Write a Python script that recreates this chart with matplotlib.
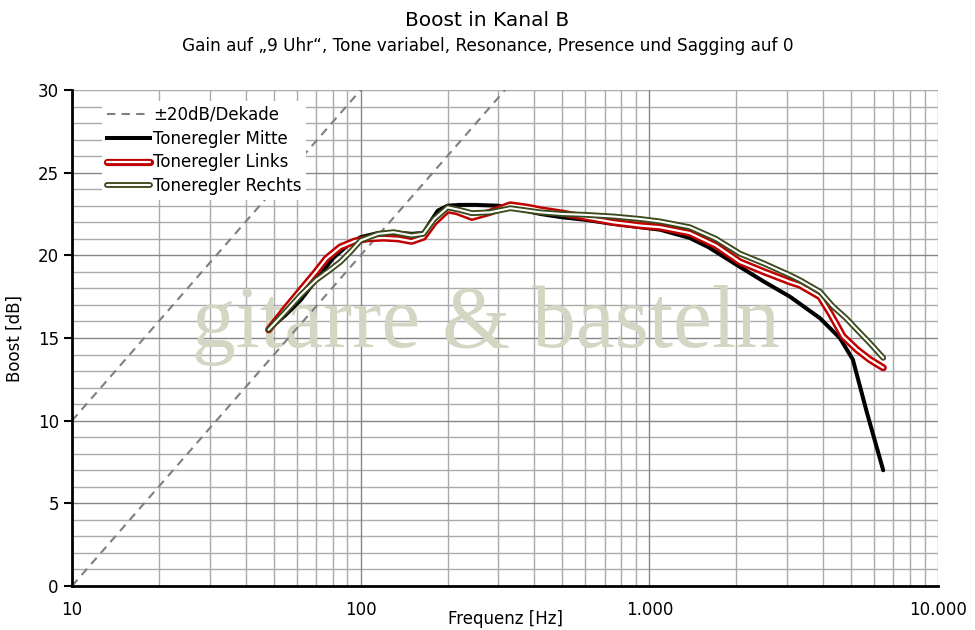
import numpy as np
import matplotlib
matplotlib.use("Agg")
import matplotlib.pyplot as plt
import matplotlib.patheffects as pe
from matplotlib.ticker import FixedLocator, FuncFormatter
from matplotlib.lines import Line2D

plt.rcParams['font.family'] = ['DejaVu Sans']

# Toneregler Mitte
f_mitte = [48, 55, 62, 70, 80, 90, 100, 115, 130, 150, 165, 174, 185, 200, 220, 250, 300, 350, 420,
           500, 600, 750, 930, 1090, 1380, 1600, 2060, 2500, 3070, 3900, 4570, 5070, 5670, 6460]
db_mitte = [15.5, 16.4, 17.3, 18.5, 19.8, 20.6, 21.1, 21.35, 21.4, 21.3, 21.35, 22.0, 22.7, 23.0,
            23.05, 23.05, 23.0, 22.8, 22.5, 22.3, 22.15, 21.9, 21.7, 21.55, 21.05, 20.5, 19.3, 18.4,
            17.5, 16.2, 15.0, 13.7, 10.5, 7.0]

# Toneregler Links
f_links = [48, 55, 62, 70, 76, 85, 95, 105, 120, 135, 150, 165, 180, 200, 215, 243, 280, 330, 380,
           420, 500, 600, 750, 930, 1090, 1380, 1700, 2060, 2500, 3070, 3325, 3900, 4230, 4690,
           5240, 5800, 6460]
db_links = [15.5, 16.8, 17.9, 19.0, 19.8, 20.5, 20.85, 21.0, 21.05, 21.0, 20.85, 21.1, 22.0, 22.75,
            22.65, 22.3, 22.6, 23.05, 22.9, 22.75, 22.55, 22.3, 22.0, 21.8, 21.7, 21.35, 20.6, 19.6,
            19.0, 18.4, 18.2, 17.5, 16.5, 15.1, 14.3, 13.7, 13.2]

# Toneregler Rechts
f_rechts = [48, 55, 62, 70, 78, 85, 92, 100, 115, 130, 150, 165, 180, 200, 220, 243, 280, 330, 420,
            500, 600, 750, 930, 1090, 1380, 1700, 2060, 2500, 3070, 3325, 3900, 4330, 4800, 5240,
            5800, 6460]
db_rechts = [15.5, 16.6, 17.6, 18.5, 19.1, 19.6, 20.2, 20.9, 21.3, 21.4, 21.2, 21.3, 22.2, 22.9,
             22.75, 22.55, 22.6, 22.85, 22.6, 22.5, 22.45, 22.35, 22.2, 22.05, 21.7, 21.0, 20.1,
             19.5, 18.8, 18.5, 17.8, 16.9, 16.2, 15.5, 14.7, 13.8]

# +-20dB/Dekade reference lines: start level at 10 Hz
ref_f = [10, 10000]
ref_start = [0, 10]

red = '#C00000'
olive = '#3B4A1C'

# double (compound) line: white core with coloured outline
links_fx = [pe.Stroke(linewidth=5.2, foreground=red), pe.Normal()]
rechts_fx = [pe.Stroke(linewidth=4.2, foreground=olive), pe.Normal()]

fig = plt.figure(figsize=(9.75, 6.3), dpi=100)
ax = fig.add_axes([72/975, 1-586/630, 866/975, 496/630])

ax.set_xscale('log')
ax.set_xlim(10, 10000)
ax.set_ylim(0, 30)

# grid
minor_x = [m*10**e for e in range(1, 4) for m in range(2, 10)]
for v in minor_x:
    ax.axvline(v, color='#ABABAB', lw=1, zorder=0.5)
for v in [100, 1000]:
    ax.axvline(v, color='#858585', lw=1, zorder=0.6)
for v in range(1, 30):
    c = '#858585' if v % 5 == 0 else '#ABABAB'
    ax.axhline(v, color=c, lw=1, zorder=0.5)
ax.axvline(10000, color='#ABABAB', lw=1, zorder=0.5)
ax.axhline(30, color='#ABABAB', lw=1, zorder=0.5)

# watermark
ax.text(0.478, 0.482, 'gitarre & basteln', transform=ax.transAxes, ha='center', va='baseline',
        fontsize=63, family='Liberation Serif', color='#D5D5C3', zorder=1)

# reference lines
for s in ref_start:
    ax.plot(ref_f, [s + 20*np.log10(f/10) for f in ref_f], color='#7F7F7F', lw=1.5,
            ls=(0, (4, 3)), zorder=2)

ax.plot(f_mitte, db_mitte, color='black', lw=2.9, solid_capstyle='round', zorder=3)
ax.plot(f_links, db_links, color='white', lw=1.6, solid_capstyle='round', zorder=4,
        path_effects=links_fx)
ax.plot(f_rechts, db_rechts, color='white', lw=1.5, solid_capstyle='round', zorder=5,
        path_effects=rechts_fx)

# axes styling
for s in ['top', 'right']:
    ax.spines[s].set_visible(False)
for s in ['left', 'bottom']:
    ax.spines[s].set_linewidth(2)
    ax.spines[s].set_zorder(6)
ax.xaxis.set_major_locator(FixedLocator([10, 100, 1000, 10000]))
ax.xaxis.set_minor_locator(FixedLocator([]))
ax.xaxis.set_major_formatter(FuncFormatter(lambda v, p: f"{int(v):,}".replace(',', '.')))
ax.tick_params(axis='x', length=0, pad=11, labelsize=12)
ax.yaxis.set_major_locator(FixedLocator(range(0, 31, 5)))
ax.tick_params(axis='y', length=6, width=1.5, labelsize=12, direction='out')

fig.text(505/975, 1-619/630, 'Frequenz [Hz]', ha='center', va='center', fontsize=12)
ax.set_ylabel('Boost [dB]', fontsize=12, labelpad=10)

fig.text(0.5, 1-21/630, 'Boost in Kanal B', ha='center', va='center', fontsize=14.5)
fig.text(0.5, 1-46/630, 'Gain auf \u201e9 Uhr\u201c, Tone variabel, Resonance, Presence und Sagging auf 0',
         ha='center', va='center', fontsize=12.2)

# legend
h_ref = Line2D([], [], color='#7F7F7F', lw=1.5, ls=(0, (4, 3)))
h_mitte = Line2D([], [], color='black', lw=2.9)
h_links = Line2D([], [], color='white', lw=1.6, solid_capstyle='round', path_effects=links_fx)
h_rechts = Line2D([], [], color='white', lw=1.5, solid_capstyle='round', path_effects=rechts_fx)
leg = ax.legend([h_ref, h_mitte, h_links, h_rechts],
                ['\u00b120dB/Dekade', 'Toneregler Mitte', 'Toneregler Links', 'Toneregler Rechts'],
                loc='upper left', bbox_to_anchor=(0.025, 0.995), fontsize=12, frameon=True,
                fancybox=False, edgecolor='none', facecolor='white', framealpha=1,
                handlelength=2.6, handletextpad=0.15, labelspacing=0.35, borderpad=0.3)
leg.set_zorder(7)

fig.savefig('out.png', dpi=100)
